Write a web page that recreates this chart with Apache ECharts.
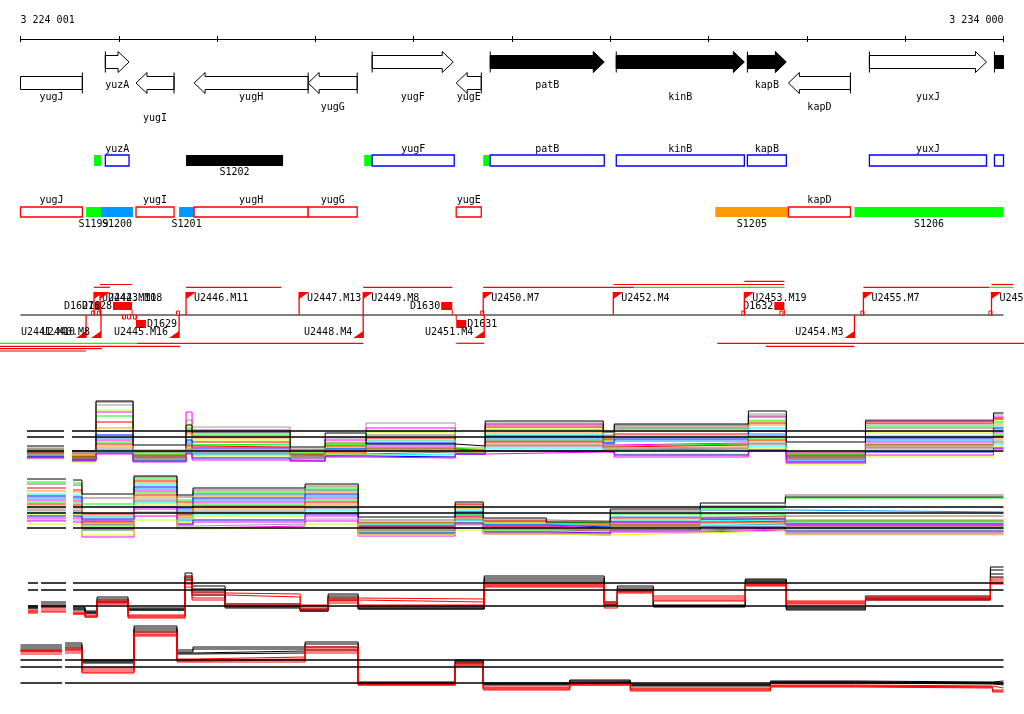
<!DOCTYPE html>
<html><head><meta charset="utf-8">
<script src="https://cdn.jsdelivr.net/npm/echarts@6/dist/echarts.min.js"></script>
<style>html,body{margin:0;padding:0;background:#fff}#c{width:1024px;height:714px}</style>
</head><body><div id="c"></div>
<script>
// ---------------- DATA ----------------
const X_MIN = 3224001, X_MAX = 3234000;
const tickLabels = ['3 224 001', '3 234 000'];

// genes: [name, start, end, strand, highlighted]
const genes = [
  ['yugJ', 3223700, 3224630, -1, 0],
  ['yuzA', 3224864, 3225105, 1, 0],
  ['yugI', 3225176, 3225563, -1, 0],
  ['yugH', 3225767, 3226927, -1, 0],
  ['yugG', 3226927, 3227426, -1, 0],
  ['yugF', 3227578, 3228403, 1, 0],
  ['yugE', 3228433, 3228688, -1, 0],
  ['patB', 3228779, 3229939, 1, 1],
  ['kinB', 3230061, 3231364, 1, 1],
  ['kapB', 3231395, 3231791, 1, 1],
  ['kapD', 3231812, 3232443, -1, 0],
  ['yuxJ', 3232636, 3233827, 1, 0],
  ['', 3233908, 3234400, 1, 1]
];

// forward-strand segments: [start, end, kind, label]
const upperFeatures = [
  [3224749, 3224820, 'utr', ''],
  [3224864, 3225105, 'cds', 'yuzA'],
  [3225685, 3226672, 'dark', 'S1202'],
  [3227497, 3227578, 'utr', ''],
  [3227578, 3228413, 'cds', 'yugF'],
  [3228708, 3228779, 'utr', ''],
  [3228779, 3229939, 'cds', 'patB'],
  [3230061, 3231364, 'cds', 'kinB'],
  [3231395, 3231791, 'cds', 'kapB'],
  [3232636, 3233827, 'cds', 'yuxJ'],
  [3233908, 3234000, 'cds', '']
];
// reverse-strand segments
const lowerFeatures = [
  [3224001, 3224630, 'cds', 'yugJ'],
  [3224668, 3224820, 'utr', 'S1199'],
  [3224820, 3225146, 'seg', 'S1200'],
  [3225176, 3225563, 'cds', 'yugI'],
  [3225614, 3225767, 'seg', 'S1201'],
  [3225767, 3226927, 'cds', 'yugH'],
  [3226927, 3227426, 'cds', 'yugG'],
  [3228433, 3228688, 'cds', 'yugE'],
  [3231069, 3231812, 'alt', 'S1205'],
  [3231812, 3232443, 'cds', 'kapD'],
  [3232484, 3234000, 'utr', 'S1206']
];

// promoters: [name, position, strand]
const promoters = [
  ['U2441.M10', 3224668, -1],
  ['U2442.M10', 3224749, 1],
  ['U2443.M18', 3224810, 1],
  ['U2440.M8', 3224820, -1],
  ['U2445.M16', 3225614, -1],
  ['U2446.M11', 3225685, 1],
  ['U2447.M13', 3226835, 1],
  ['U2449.M8', 3227487, 1],
  ['U2448.M4', 3227487, -1],
  ['U2450.M7', 3228708, 1],
  ['U2451.M4', 3228718, -1],
  ['U2452.M4', 3230031, 1],
  ['U2453.M19', 3231364, 1],
  ['U2454.M3', 3232484, -1],
  ['U2455.M7', 3232575, 1],
  ['U2456.M5', 3233878, 1]
];

// transcription spans: [start, end, strand, level, kind]
const spans = [
  [3224749, 3224911, 1, 1, 'tu'],
  [3224810, 3225136, 1, 2, 'tu'],
  [3225685, 3226652, 1, 1, 'tu'],
  [3227487, 3228393, 1, 1, 'tu'],
  [3228708, 3230245, 1, 1, 'tu'],
  [3230245, 3231771, 1, 1, 'rt'],
  [3230031, 3231771, 1, 2, 'tu'],
  [3231364, 3231771, 1, 3, 'tu'],
  [3232575, 3233857, 1, 1, 'tu'],
  [3233857, 3234100, 1, 1, 'rt'],
  [3233878, 3234100, 1, 2, 'tu'],
  [3223792, 3225187, -1, 1, 'rt'],
  [3225187, 3227487, -1, 1, 'tu'],
  [3228433, 3228718, -1, 1, 'tu'],
  [3231089, 3234250, -1, 1, 'tu'],
  [3223792, 3225624, -1, 2, 'tu'],
  [3231583, 3232484, -1, 2, 'tu'],
  [3223792, 3224830, -1, 3, 'tu'],
  [3223792, 3224668, -1, 4, 'tu']
];

// downshift boxes: [name, start, end, strand]
const dBoxes = [
  ['D1627', 3224759, 3224820, 1],
  ['D1628', 3224942, 3225136, 1],
  ['D1629', 3225176, 3225278, -1],
  ['D1630', 3228280, 3228393, 1],
  ['D1631', 3228433, 3228535, -1],
  ['D1632', 3231669, 3231771, 1]
];

// terminators: [position, strand]
const terminators = [
  [3224739, 1], [3224800, 1], [3225054, -1], [3225105, -1], [3225166, -1],
  [3225604, 1], [3228698, 1], [3231354, 1], [3231741, 1], [3232565, 1], [3233867, 1]
];

// ---- expression track A (forward strand, many conditions) ----
const trackAEdges = [[3224067,3224444],[3224525,3224769],[3224769,3225146],[3225146,3225685],[3225685,3225746],[3225746,3226744],[3226744,3227100],[3227100,3227517],[3227517,3228423],[3228423,3228728],[3228728,3229929],[3229929,3230041],[3230041,3231405],[3231405,3231791],[3231791,3232596],[3232596,3233898],[3233898,3234000]];
const trackARef = [1.9, 3.3, 3.9];
const trackAMedian = [2.4,1.9,6.9,2.5,4.5,3.8,2.3,3.7,2.6,2.4,4.9,3.8,4.6,5.9,2.8,4.9,5.7];
const trackA = [
  [2.2,1.8,6.5,2.0,5.0,4.3,2.1,3.2,4.7,2.2,4.7,3.5,4.5,5.6,1.9,4.6,5.5],
  [2.0,1.6,5.8,1.8,5.8,4.0,2.0,3.0,4.2,2.0,4.5,3.3,4.2,5.3,1.7,5.0,5.3],
  [1.9,1.5,6.0,1.6,4.6,3.0,1.8,2.8,3.8,2.1,4.2,3.2,3.9,5.0,1.2,3.7,5.0],
  [2.1,1.7,6.8,1.9,4.0,3.4,1.9,2.7,3.5,2.0,4.6,3.4,4.4,5.4,1.8,4.2,5.2],
  [1.8,1.4,5.4,1.7,4.2,3.6,1.7,2.5,3.9,1.9,4.0,3.0,4.1,4.9,1.6,4.4,4.8],
  [1.7,1.3,4.8,1.5,3.8,2.8,1.6,2.4,3.2,1.8,4.3,3.1,3.6,4.7,1.5,4.7,5.1],
  [1.6,1.5,4.2,1.4,3.6,3.2,1.5,2.3,3.0,1.9,3.8,2.9,3.4,4.5,1.4,3.9,4.6],
  [1.5,1.2,3.9,1.3,3.3,2.5,1.4,2.2,2.9,1.8,3.6,2.8,3.3,4.2,1.3,3.4,4.4],
  [1.4,1.1,3.5,1.2,3.0,2.2,1.3,2.1,2.7,1.7,3.4,2.7,3.1,3.9,1.2,3.2,4.2],
  [1.6,1.2,3.2,1.1,2.8,1.8,1.2,2.0,2.5,1.7,3.2,2.6,2.9,3.6,1.1,3.0,4.0],
  [1.3,1.0,3.0,1.0,2.6,2.0,1.1,1.9,2.3,1.6,3.0,2.5,2.7,3.4,1.0,2.8,3.8],
  [1.9,1.4,2.8,1.5,2.5,2.6,1.6,2.6,2.2,2.0,2.9,2.4,2.6,3.2,1.5,2.6,3.6],
  [1.8,1.3,2.6,1.4,2.4,2.3,1.5,1.8,2.1,1.9,2.8,2.3,2.5,3.0,1.4,2.5,3.4],
  [1.5,1.1,2.4,1.2,2.2,1.9,1.3,1.7,2.0,1.8,2.6,2.2,2.3,2.9,1.2,2.4,3.2],
  [1.4,1.0,2.2,1.1,2.1,1.7,1.2,1.6,1.9,1.7,2.5,2.1,2.2,2.7,1.1,2.3,3.0],
  [1.7,1.2,2.0,1.3,2.0,1.6,1.4,1.6,1.8,1.8,2.4,2.0,2.1,2.6,1.3,2.2,2.8],
  [1.2,0.9,1.9,1.0,1.9,1.5,1.0,1.5,1.6,1.6,2.2,1.9,1.9,2.4,0.9,2.0,2.6],
  [1.1,0.8,1.8,0.9,1.8,1.4,1.0,1.5,1.4,1.7,2.0,1.9,1.6,2.2,0.6,1.3,2.4],
  [1.3,1.0,1.7,0.9,1.7,1.2,0.9,1.4,1.3,1.6,1.9,1.8,1.5,2.0,0.8,1.8,2.2],
  [1.2,0.9,1.6,0.8,1.6,1.0,0.9,1.3,1.2,1.6,1.8,1.8,1.3,1.9,0.7,1.5,2.1]
];

// ---- expression track B (reverse strand, many conditions) ----
const trackBEdges = [[3224067,3224463],[3224535,3224626],[3224626,3225156],[3225156,3225593],[3225593,3225756],[3225756,3226896],[3226896,3227436],[3227436,3228423],[3228423,3228708],[3228708,3229349],[3229349,3230000],[3230000,3230916],[3230916,3231781],[3231781,3234000]];
const trackBRef = [2.2, 3.7, 4.3];
const trackBMedian = [7.1,7.0,5.6,7.4,5.5,6.2,6.6,3.3,4.8,3.2,2.8,4.1,4.7,5.3];
const trackB = [
  [6.6,6.5,5.2,7.3,5.3,6.0,6.4,3.0,4.5,3.0,2.9,3.9,4.4,5.5],
  [6.8,6.7,4.6,7.1,5.0,5.8,6.2,2.8,4.3,2.8,2.7,3.6,4.2,5.2],
  [6.2,6.0,3.6,6.9,4.8,5.6,6.0,2.7,4.6,2.9,2.6,3.2,3.4,2.9],
  [5.9,5.8,3.4,6.7,4.6,5.4,5.8,2.6,4.2,2.7,2.5,3.0,3.2,2.8],
  [5.6,5.5,3.3,6.5,4.4,5.5,5.9,2.5,4.0,2.6,2.4,2.9,3.0,2.7],
  [5.4,5.3,3.1,6.3,4.2,5.2,5.6,2.4,3.8,2.5,2.3,2.8,3.1,2.6],
  [5.2,5.1,3.0,6.1,4.0,5.0,5.4,2.3,3.6,2.5,2.4,3.3,4.0,3.8],
  [5.0,4.9,2.9,5.9,3.8,4.8,5.2,2.2,3.4,2.4,2.2,2.7,2.9,2.5],
  [4.8,4.7,2.0,5.7,3.6,4.6,5.0,2.0,3.5,2.2,2.0,2.6,3.6,3.0],
  [4.6,4.5,2.8,5.5,3.5,4.4,4.8,2.3,3.3,2.3,2.1,2.5,2.8,2.4],
  [4.4,4.3,2.7,5.3,3.3,4.2,4.6,2.1,3.2,2.2,2.1,2.4,2.7,2.2],
  [4.2,4.1,2.6,5.1,3.2,4.0,4.4,2.0,3.1,2.1,2.0,2.3,3.3,2.3],
  [4.0,3.9,2.5,4.9,3.0,3.8,4.2,1.9,3.0,2.0,1.9,2.4,2.6,3.4],
  [3.8,3.7,2.4,4.7,2.9,3.6,4.0,1.8,2.9,1.9,1.8,2.2,2.5,2.1],
  [3.6,3.6,2.3,4.5,2.8,3.4,3.8,1.8,2.8,1.9,1.8,2.1,2.4,2.0],
  [3.4,3.4,2.2,4.3,2.6,3.0,3.6,1.7,2.7,1.8,1.7,2.0,2.3,1.9],
  [3.2,3.2,2.1,4.1,2.5,2.8,3.4,1.6,2.6,1.7,1.7,2.0,2.2,1.8],
  [3.0,3.0,2.0,3.8,2.4,2.6,3.1,1.6,2.5,1.7,1.6,1.9,2.1,1.8],
  [2.9,2.8,1.3,3.4,2.2,2.4,2.9,1.4,2.2,1.6,1.5,1.8,2.0,1.6],
  [2.6,2.6,1.5,3.0,2.1,2.2,2.6,1.5,2.0,1.6,1.5,1.7,1.9,1.5]
];

// ---- expression track C (forward strand, replicates) ----
const trackCEdges = [[3224077,3224179],[3224210,3224464],[3224535,3224657],[3224657,3224780],[3224780,3225095],[3225095,3225675],[3225675,3225746],[3225746,3226082],[3226082,3226846],[3226846,3227130],[3227130,3227436],[3227436,3228718],[3228718,3229939],[3229939,3230072],[3230072,3230438],[3230438,3231374],[3231374,3231791],[3231791,3232596],[3232596,3233867],[3233867,3234000]];
const trackCRef = [1.4, 3.0, 3.7];
const trackCBlack = [
  [1.4,1.8,1.3,0.9,2.3,1.2,4.7,3.4,1.6,1.1,2.6,1.3,4.4,1.8,3.4,1.5,4.1,1.3,2.4,5.3],
  [1.3,1.6,1.2,0.8,2.1,1.1,4.4,3.1,1.4,1.0,2.4,1.2,4.2,1.6,3.2,1.4,4.0,1.2,2.2,5.0],
  [1.2,1.4,1.1,0.7,1.9,1.0,4.2,2.8,1.3,0.9,2.2,1.1,4.0,1.5,3.0,1.4,3.9,1.1,2.1,4.6],
  [1.2,1.3,1.0,0.7,1.8,1.0,4.0,2.5,1.2,0.9,2.0,1.1,3.8,1.5,2.9,1.3,3.8,1.0,2.0,4.3]
];
const trackCRed = [
  [1.0,1.3,0.8,0.5,2.0,0.5,4.3,2.7,2.6,1.5,2.2,2.1,3.6,1.8,3.0,2.4,3.6,1.9,2.3,4.2],
  [0.9,1.1,0.7,0.4,1.8,0.4,4.0,2.5,2.3,1.4,2.0,1.8,3.5,1.6,2.9,2.2,3.5,1.8,2.2,4.0],
  [0.8,0.9,0.6,0.3,1.7,0.3,3.6,2.2,1.6,1.2,1.9,1.5,3.4,1.5,2.8,2.0,3.5,1.7,2.1,3.8],
  [0.7,0.8,0.6,0.3,1.6,0.2,3.3,2.0,1.3,1.0,1.7,1.3,3.3,1.2,2.7,1.9,3.4,1.6,2.0,3.6]
];

// ---- expression track D (reverse strand, replicates) ----
const trackDEdges = [[3224001,3224423],[3224454,3224626],[3224626,3225156],[3225156,3225593],[3225593,3225756],[3225756,3226896],[3226896,3227436],[3227436,3228423],[3228423,3228708],[3228708,3229588],[3229588,3230204],[3230204,3231629],[3231629,3232494],[3232494,3233888],[3233888,3234000]];
const trackDRef = [1.7, 3.3, 4.0];
const trackDBlack = [
  [5.5,5.7,4.0,7.4,5.0,5.3,5.8,1.8,4.0,1.7,2.0,1.6,1.9,1.8,1.9],
  [5.3,5.5,3.9,7.2,4.8,5.1,5.6,1.7,3.9,1.6,1.9,1.5,1.8,1.7,1.7],
  [5.1,5.3,3.8,7.0,4.7,4.9,5.3,1.7,3.8,1.6,1.8,1.5,1.8,1.7,1.6],
  [4.9,5.1,3.7,6.8,4.6,4.7,5.0,1.6,3.7,1.5,1.8,1.4,1.7,1.6,1.5]
];
const trackDRed = [
  [5.0,5.2,3.2,6.8,4.1,4.3,5.3,1.7,3.7,1.3,1.7,1.2,1.5,1.4,1.2],
  [4.9,5.0,3.0,6.6,4.0,4.1,5.1,1.6,3.6,1.2,1.6,1.1,1.4,1.3,1.0],
  [4.8,4.9,2.8,6.5,3.9,4.0,4.9,1.5,3.5,1.1,1.5,1.0,1.4,1.3,0.9],
  [4.6,4.7,2.7,6.4,3.8,3.8,4.7,1.5,3.4,1.0,1.5,0.9,1.3,1.2,0.8]
];

// ---------------- LAYOUT / STYLE ----------------
const FONT = "10px 'DejaVu Sans Mono'";
const PALETTE = ['#999999','#ff00ff','#ccff00','#996666','#00ff00','#ff0000','#ff9900','#00ffff','#0000ff','#0099ff',
                 '#ff00ff','#00ff00','#ff0000','#ff9900','#999999','#996666','#00ffff','#ccff00','#0000ff','#ff00ff'];
const KIND_FILL = {utr:'#00ff00', seg:'#0099ff', alt:'#ff9900', dark:'#000000'};
const SPAN_COLOR = {tu:'#ff0000', rt:'#00ff00'};
// lane positions on the annotation axis (0 = top, 360 = bottom)
const LANE = {geneFwd:62, geneRev:83, upTop:155, upH:11, upLabel:149, upSub:172,
              lowTop:207, lowH:10, lowLabel:200, lowSub:224, tuBase:315};
const GENE_TIER_Y = [85, 97, 107, 118];
const GENE_LABEL_TIER = {yugJ:1, yuzA:0, yugI:3, yugH:1, yugG:2, yugF:1, yugE:1, patB:0, kinB:1, kapB:0, kapD:2, yuxJ:1};
const SPAN_UP = [0, 287.3, 284.5, 281.3];
const SPAN_DOWN = [0, 343.3, 346.3, 348.7, 351];

function txt(text, x, y, align, fill) {
  return {type:'text', silent:true, style:{text, x, y, font:FONT, fill:fill||'#000',
    textAlign:align, align:align, textVerticalAlign:'middle', verticalAlign:'middle'}};
}
function xr(api) { return [api.coord([X_MIN, 0])[0], api.coord([X_MAX, 0])[0]]; }
function yy(api, v) { return api.coord([X_MIN, v])[1]; }

function geneItem(params, api) {
  const g = genes[api.value(0)];
  const [name, s, e, strand, hl] = g;
  const [L, R] = xr(api);
  let x1 = api.coord([s, 0])[0], x2 = api.coord([e, 0])[0];
  const cutL = x1 < L, cutR = x2 > R;
  x1 = Math.max(x1, L); x2 = Math.min(x2, R);
  const cy = yy(api, strand > 0 ? LANE.geneFwd : LANE.geneRev);
  const SH = 6.5, HH = 10.5, HL = 11;
  let pts;
  if (strand > 0) {
    if (cutR) pts = [[x1,cy-SH],[x2,cy-SH],[x2,cy+SH],[x1,cy+SH]];
    else { const hx = Math.max(x1, x2 - HL); pts = [[x1,cy-SH],[hx,cy-SH],[hx,cy-HH],[x2,cy],[hx,cy+HH],[hx,cy+SH],[x1,cy+SH]]; }
  } else {
    if (cutL) pts = [[x1,cy-SH],[x2,cy-SH],[x2,cy+SH],[x1,cy+SH]];
    else { const hx = Math.min(x2, x1 + HL); pts = [[x2,cy-SH],[hx,cy-SH],[hx,cy-HH],[x1,cy],[hx,cy+HH],[hx,cy+SH],[x2,cy+SH]]; }
  }
  const ch = [{type:'polygon', shape:{points:pts}, style:{fill: hl ? '#000' : '#fff', stroke:'#000', lineWidth:1}}];
  const tailX = strand > 0 ? x1 : x2, tailCut = strand > 0 ? cutL : cutR;
  if (!tailCut) ch.push({type:'line', shape:{x1:tailX, y1:cy-HH, x2:tailX, y2:cy+HH}, style:{stroke:'#000', lineWidth:1}});
  if (name) ch.push(txt(name, (x1 + x2) / 2, yy(api, GENE_TIER_Y[GENE_LABEL_TIER[name]]), 'center'));
  return {type:'group', children:ch};
}

function featureItemFactory(list, upper) {
  return function (params, api) {
    const [s, e, kind, label] = list[api.value(0)];
    const [L, R] = xr(api);
    const x1 = Math.max(L, api.coord([s, 0])[0]), x2 = Math.min(R, api.coord([e, 0])[0]);
    const top = yy(api, upper ? LANE.upTop : LANE.lowTop);
    const h = yy(api, (upper ? LANE.upTop + LANE.upH : LANE.lowTop + LANE.lowH)) - top;
    const ch = [];
    if (kind === 'cds') {
      ch.push({type:'rect', shape:{x:x1, y:top, width:x2 - x1, height:h},
        style:{fill:'#fff', stroke: upper ? '#0000ff' : '#ff0000', lineWidth:1.3}});
      if (label) ch.push(txt(label, (x1 + x2) / 2, yy(api, upper ? LANE.upLabel : LANE.lowLabel), 'center'));
    } else {
      ch.push({type:'rect', shape:{x:x1, y:top, width:x2 - x1, height:h}, style:{fill:KIND_FILL[kind]}});
      if (label) ch.push(txt(label, (x1 + x2) / 2, yy(api, upper ? LANE.upSub : LANE.lowSub), 'center'));
    }
    return {type:'group', children:ch};
  };
}

function promoterItem(params, api) {
  const [name, pos, strand] = promoters[api.value(0)];
  const x = api.coord([pos, 0])[0];
  const base = yy(api, LANE.tuBase);
  const tip = yy(api, LANE.tuBase - strand * 23);
  const tri = strand > 0 ? [[x, tip], [x + 10, tip], [x, tip + 7]] : [[x, tip], [x - 10, tip], [x, tip - 7]];
  const ch = [
    {type:'line', shape:{x1:x, y1:base, x2:x, y2:tip}, style:{stroke:'#ff0000', lineWidth:1.3}},
    {type:'polygon', shape:{points:tri}, style:{fill:'#ff0000'}}
  ];
  if (strand > 0) ch.push(txt(name, x + 8, yy(api, LANE.tuBase - 17), 'left'));
  else ch.push(txt(name, x - 11, yy(api, LANE.tuBase + 17), 'right'));
  return {type:'group', children:ch};
}

function spanItem(params, api) {
  const [s, e, strand, level, kind] = spans[api.value(0)];
  const x1 = api.coord([s, 0])[0], x2 = api.coord([e, 0])[0];
  const y = yy(api, strand > 0 ? SPAN_UP[level] : SPAN_DOWN[level]);
  return {type:'line', shape:{x1, y1:y, x2, y2:y}, style:{stroke:SPAN_COLOR[kind], lineWidth:1.2}};
}

function dBoxItem(params, api) {
  const [name, s, e, strand] = dBoxes[api.value(0)];
  const x1 = api.coord([s, 0])[0], x2 = api.coord([e, 0])[0];
  const base = yy(api, LANE.tuBase);
  const ch = [];
  if (strand > 0) {
    const t = yy(api, LANE.tuBase - 13), b = yy(api, LANE.tuBase - 5);
    ch.push({type:'rect', shape:{x:x1, y:t, width:Math.max(2, x2 - x1), height:b - t}, style:{fill:'#ff0000'}});
    ch.push({type:'line', shape:{x1:x2, y1:b, x2:x2, y2:base}, style:{stroke:'#ff0000', lineWidth:1}});
    ch.push(txt(name, x1 - 1, (t + b) / 2, 'right'));
  } else {
    const t = yy(api, LANE.tuBase + 5), b = yy(api, LANE.tuBase + 13);
    ch.push({type:'rect', shape:{x:x1, y:t, width:Math.max(2, x2 - x1), height:b - t}, style:{fill:'#ff0000'}});
    ch.push({type:'line', shape:{x1:x1, y1:base, x2:x1, y2:t}, style:{stroke:'#ff0000', lineWidth:1}});
    ch.push(txt(name, x2 + 1, (t + b) / 2, 'left'));
  }
  return {type:'group', children:ch};
}

function termItem(params, api) {
  const [pos, strand] = terminators[api.value(0)];
  const x = api.coord([pos, 0])[0];
  const base = yy(api, LANE.tuBase);
  const y = strand > 0 ? base - 4 : base;
  return {type:'rect', shape:{x:x - 1.5, y, width:3, height:4}, style:{fill:'#fff', stroke:'#ff0000', lineWidth:1}};
}

function blockLine(edges, values) {
  const pts = [];
  for (let i = 0; i < edges.length; i++) {
    if (i > 0 && edges[i][0] !== edges[i - 1][1]) pts.push([(edges[i][0] + edges[i - 1][1]) / 2, null]);
    pts.push([edges[i][0], values[i]], [edges[i][1], values[i]]);
  }
  return pts;
}
function refSpans(edges) {
  const out = [];
  edges.forEach((e, i) => {
    if (i === 0 || e[0] !== edges[i - 1][1]) out.push([e[0], e[1]]);
    else out[out.length - 1][1] = e[1];
  });
  return out;
}
function refLine(edges, level) {
  const pts = [];
  refSpans(edges).forEach((sp, i) => {
    if (i > 0) pts.push([sp[0] - 1, null]);
    pts.push([sp[0], level], [sp[1], level]);
  });
  return pts;
}

// ---------------- CHART ----------------
const chart = echarts.init(document.getElementById('c'), null, {renderer:'canvas'});
const G = {left:20.5, right:20.5};
const grids = [
  Object.assign({top:38, height:1}, G),
  Object.assign({top:38, height:1}, G),
  Object.assign({top:0, height:360}, G),
  Object.assign({top:390, height:80}, G),
  Object.assign({top:470, height:80}, G),
  Object.assign({top:560, height:60}, G),
  Object.assign({top:620, height:80}, G)
];
const fmt = v => String(Math.round(v)).replace(/\B(?=(\d{3})+(?!\d))/g, ' ');
const xAxes = grids.map((g, i) => ({
  type:'value', gridIndex:i, min:X_MIN, max:X_MAX, show: i < 2, position:'top',
  interval:1000, splitLine:{show:false},
  axisLine:{show:true, lineStyle:{color:'#000', width:1}},
  axisTick:{show:true, inside: i === 1, length:3, lineStyle:{color:'#000', width:1}},
  axisLabel:{show: i === 0, margin:13, color:'#000', fontFamily:'DejaVu Sans Mono', fontSize:10,
    showMinLabel:true, showMaxLabel:true, alignMinLabel:'left', alignMaxLabel:'right',
    formatter: v => (v <= X_MIN + 1 ? tickLabels[0] : (v >= X_MAX - 1 ? tickLabels[1] : ''))}
}));
const yAxes = [
  {type:'value', gridIndex:0, show:false, min:0, max:1},
  {type:'value', gridIndex:1, show:false, min:0, max:1},
  {type:'value', gridIndex:2, show:false, min:0, max:360, inverse:true},
  {type:'value', gridIndex:3, show:false, min:0, max:8},
  {type:'value', gridIndex:4, show:false, min:0, max:8},
  {type:'value', gridIndex:5, show:false, min:0, max:6},
  {type:'value', gridIndex:6, show:false, min:0, max:8}
];

const series = [];
function custom(list, fn, z) {
  series.push({type:'custom', xAxisIndex:2, yAxisIndex:2, silent:true, clip:false, z:z || 2,
    renderItem:fn, data:list.map((_, i) => [i])});
}
custom(genes, geneItem);
custom(upperFeatures, featureItemFactory(upperFeatures, true));
custom(lowerFeatures, featureItemFactory(lowerFeatures, false));
series.push({type:'line', xAxisIndex:2, yAxisIndex:2, silent:true, symbol:'none', z:2,
  data:[[X_MIN, LANE.tuBase], [X_MAX, LANE.tuBase]], lineStyle:{color:'#000', width:1.2}});
custom(spans, spanItem);
custom(terminators, termItem, 3);
custom(dBoxes, dBoxItem, 3);
custom(promoters, promoterItem, 4);

function addLine(axis, data, color, z, w) {
  series.push({type:'line', xAxisIndex:axis, yAxisIndex:axis, silent:true, symbol:'none', showSymbol:false,
    connectNulls:false, z:z, data:data, lineStyle:{color:color, width:w || 1}});
}
trackA.forEach((v, i) => addLine(3, blockLine(trackAEdges, v), PALETTE[i % PALETTE.length], 2));
addLine(3, blockLine(trackAEdges, trackAMedian), '#000', 3);
trackARef.forEach(l => addLine(3, refLine(trackAEdges, l), '#000', 5, 1.3));

trackB.forEach((v, i) => addLine(4, blockLine(trackBEdges, v), PALETTE[(i + 3) % PALETTE.length], 2));
addLine(4, blockLine(trackBEdges, trackBMedian), '#000', 3);
trackBRef.forEach(l => addLine(4, refLine(trackBEdges, l), '#000', 5, 1.3));

trackCBlack.forEach(v => addLine(5, blockLine(trackCEdges, v), '#000', 2));
trackCRed.forEach(v => addLine(5, blockLine(trackCEdges, v), '#ff0000', 3));
trackCRef.forEach(l => addLine(5, refLine(trackCEdges, l), '#000', 5, 1.3));

trackDBlack.forEach(v => addLine(6, blockLine(trackDEdges, v), '#000', 2));
trackDRed.forEach(v => addLine(6, blockLine(trackDEdges, v), '#ff0000', 3));
trackDRef.forEach(l => addLine(6, refLine(trackDEdges, l), '#000', 5, 1.3));

chart.setOption({animation:false, backgroundColor:'#fff', grid:grids, xAxis:xAxes, yAxis:yAxes, series:series});
</script></body></html>
